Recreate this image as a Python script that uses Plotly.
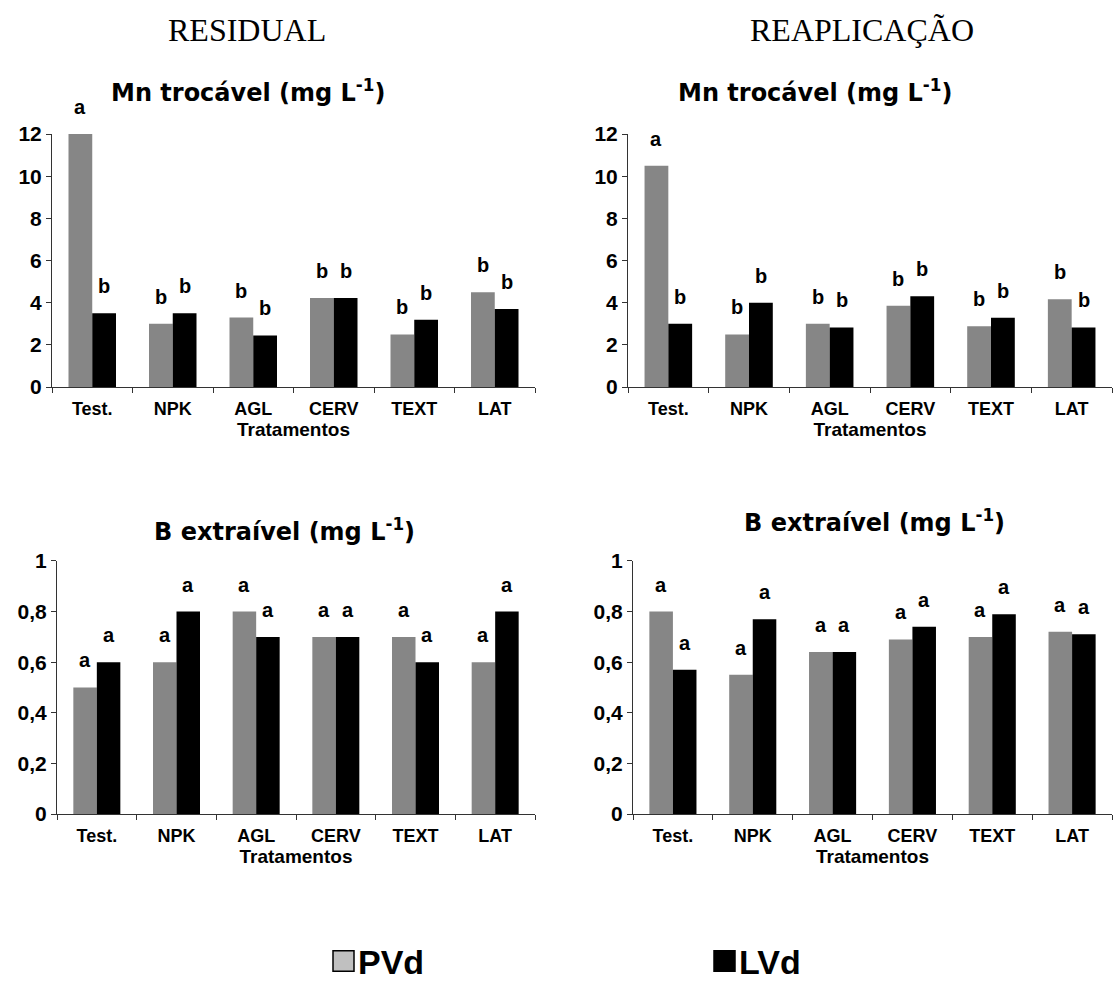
import plotly.graph_objects as go

W, H = 1114, 994

treatments = ["Test.", "NPK", "AGL", "CERV", "TEXT", "LAT"]

# Mn trocável (mg L-1)
mn_res_pvd = [12.0, 3.0, 3.3, 4.23, 2.5, 4.5]
mn_res_lvd = [3.5, 3.5, 2.45, 4.23, 3.2, 3.7]
mn_rea_pvd = [10.5, 2.5, 3.0, 3.86, 2.89, 4.17]
mn_rea_lvd = [3.0, 4.0, 2.83, 4.31, 3.29, 2.83]
mn_res_let_pvd = ["a", "b", "b", "b", "b", "b"]
mn_res_let_lvd = ["b", "b", "b", "b", "b", "b"]
mn_rea_let_pvd = ["a", "b", "b", "b", "b", "b"]
mn_rea_let_lvd = ["b", "b", "b", "b", "b", "b"]

# B extraível (mg L-1)
b_res_pvd = [0.5, 0.6, 0.8, 0.7, 0.7, 0.6]
b_res_lvd = [0.6, 0.8, 0.7, 0.7, 0.6, 0.8]
b_rea_pvd = [0.8, 0.55, 0.64, 0.69, 0.70, 0.72]
b_rea_lvd = [0.57, 0.77, 0.64, 0.74, 0.79, 0.71]
b_let = ["a", "a", "a", "a", "a", "a"]

mn_ticks = [0, 2, 4, 6, 8, 10, 12]
b_ticks = [0, 0.2, 0.4, 0.6, 0.8, 1]

GRAY = "#868686"
BLACK = "#000000"
FONT = "Liberation Sans, Arial, sans-serif"
WIDEFONT = "DejaVu Sans, Liberation Sans, sans-serif"
BARGAP = 0.41

panels = [
    (mn_res_pvd, mn_res_lvd, mn_res_let_pvd, mn_res_let_lvd, mn_ticks, [0, 12], (52, 535), (125, 384)),
    (mn_rea_pvd, mn_rea_lvd, mn_rea_let_pvd, mn_rea_let_lvd, mn_ticks, [0, 12], (628, 1112), (125, 384)),
    (b_res_pvd, b_res_lvd, b_let, b_let, b_ticks, [0, 1], (57, 535), (562, 821)),
    (b_rea_pvd, b_rea_lvd, b_let, b_let, b_ticks, [0, 1], (633, 1112), (562, 821)),
]

fig = go.Figure()
annotations = []
layout_axes = {}

for k, (pvd, lvd, lp, ll, ticks, yr, xd, yd) in enumerate(panels, start=1):
    xa = "x" if k == 1 else f"x{k}"
    ya = "y" if k == 1 else f"y{k}"
    fig.add_trace(go.Bar(x=treatments, y=pvd, name="PVd", marker=dict(color=GRAY, line=dict(width=0)),
                         xaxis=xa, yaxis=ya, showlegend=False, offsetgroup="p"))
    fig.add_trace(go.Bar(x=treatments, y=lvd, name="LVd", marker=dict(color=BLACK, line=dict(width=0)),
                         xaxis=xa, yaxis=ya, showlegend=False, offsetgroup="l"))
    half = (1 - BARGAP) / 4
    for i in range(len(treatments)):
        for dx, val, txt in ((-half, pvd[i], lp[i]), (half, lvd[i], ll[i])):
            annotations.append(dict(x=i + dx, y=val, xref=xa, yref=ya, text=f"<b>{txt}</b>",
                                    showarrow=False, font=dict(family=FONT, size=20, color="black"),
                                    yanchor="middle", xanchor="center", yshift=27))
    xkey = "xaxis" if k == 1 else f"xaxis{k}"
    ykey = "yaxis" if k == 1 else f"yaxis{k}"
    layout_axes[xkey] = dict(
        domain=[xd[0] / W, xd[1] / W], anchor=ya, type="category", range=[-0.5, 5.5],
        showline=True, linecolor="#333333", linewidth=1, ticks="outside", ticklen=5, tickcolor="#333333",
        tickson="boundaries", showgrid=False, zeroline=False,
        tickfont=dict(family=FONT, size=18, color="black", weight="bold"),
        ticklabelstandoff=5,
        title=dict(text="<b>Tratamentos</b>", standoff=1,
                   font=dict(family=FONT, size=19, color="black")),
    )
    layout_axes[ykey] = dict(
        domain=[(H - yd[1]) / H, (H - yd[0]) / H], anchor=xa, range=yr, tickvals=ticks,
        showline=True, linecolor="#333333", linewidth=1, ticks="outside", ticklen=5, tickcolor="#333333",
        showgrid=False, zeroline=False,
        tickfont=dict(family=FONT, size=21, color="black", weight="bold"),
    )

# Panel titles
titles = [
    ("<b>Mn trocável (mg L<sup>-1</sup>)</b>", 248, 81),
    ("<b>Mn trocável (mg L<sup>-1</sup>)</b>", 815, 81),
    ("<b>B extraível (mg L<sup>-1</sup>)</b>", 284, 530),
    ("<b>B extraível (mg L<sup>-1</sup>)</b>", 874, 521),
]
for t, cx, cy in titles:
    annotations.append(dict(x=cx / W, y=1 - cy / H, xref="paper", yref="paper", text=t, showarrow=False,
                            font=dict(family=WIDEFONT, size=24, color="black"), xanchor="center", yanchor="middle"))

# Column headers
for t, cx in (("RESIDUAL", 247), ("REAPLICAÇÃO", 862)):
    annotations.append(dict(x=cx / W, y=1 - 18 / H, xref="paper", yref="paper", text=t, showarrow=False,
                            font=dict(family="Liberation Serif, Times New Roman, serif", size=32, color="black"),
                            xanchor="center", yanchor="middle"))

# Legend (drawn)
shapes = []
legend_items = [("PVd", "#c0c0c0", 333), ("LVd", "#000000", 714)]
for name, col, x0 in legend_items:
    shapes.append(dict(type="rect", xref="paper", yref="paper", x0=x0 / W, x1=(x0 + 21) / W,
                       y0=1 - 982 / H, y1=1 - 961 / H, fillcolor=col, line=dict(color="black", width=1.5)))
    annotations.append(dict(x=(x0 + 23) / W, y=1 - 972 / H, xref="paper", yref="paper", text=f"<b>{name}</b>",
                            showarrow=False, font=dict(family=FONT, size=34, color="black"),
                            xanchor="left", yanchor="middle"))

fig.update_layout(
    width=W, height=H, autosize=False,
    margin=dict(l=0, r=0, t=0, b=0),
    paper_bgcolor="white", plot_bgcolor="white",
    barmode="group", bargap=BARGAP, bargroupgap=0,
    separators=",.",
    showlegend=False,
    annotations=annotations, shapes=shapes,
    **layout_axes,
)

fig.write_html("out.html")
